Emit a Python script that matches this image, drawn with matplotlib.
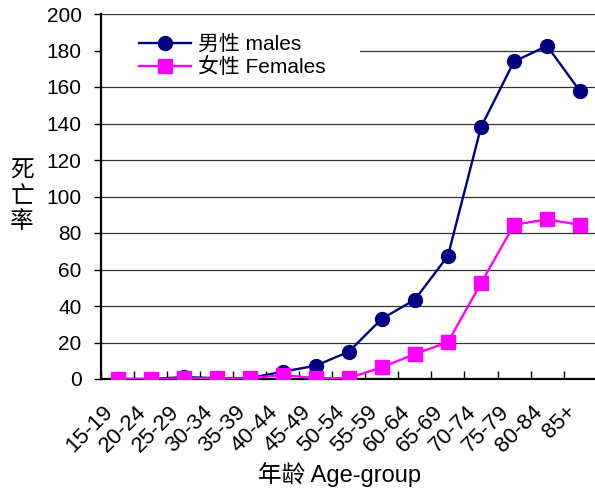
import matplotlib
matplotlib.use("Agg")
import matplotlib.pyplot as plt
import matplotlib.transforms as mtransforms
from matplotlib.patches import Rectangle

plt.rcParams['font.family'] = ['Liberation Sans', 'Noto Sans CJK SC', 'DejaVu Sans']

age_groups = ["15-19", "20-24", "25-29", "30-34", "35-39", "40-44", "45-49",
              "50-54", "55-59", "60-64", "65-69", "70-74", "75-79", "80-84", "85+"]
males = [0, 0, 1, 0.5, 0.5, 4, 7.3, 15, 33, 43.5, 67.5, 138, 174, 182.5, 157.6]
females = [0, 0, 0.3, 0.3, 0.3, 2.2, 0.4, 0.5, 6.4, 13.7, 20.2, 52.5, 84.5, 87.5, 84.4]
y_ticks = list(range(0, 201, 20))

W, H = 595, 495
fig = plt.figure(figsize=(W / 100, H / 100), dpi=100)
L, R, T, B = 101, 595, 14, 379
ax = fig.add_axes([L / W, 1 - B / H, (R - L) / W, (B - T) / H])

x = list(range(len(age_groups)))
ax.set_xlim(-0.485, 14.45)
ax.set_ylim(0, 200)

ax.set_axisbelow(True)
ax.yaxis.grid(True, color='#333333', linewidth=0.9, zorder=0.5)

# white box behind legend hiding part of the grid
ax.add_patch(Rectangle((0, (379 - 80) / 365), (360 - 101) / 494, (80 - 24) / 365,
                       transform=ax.transAxes, facecolor='white', edgecolor='none', zorder=1))

ax.plot(x, males, color='#000080', linewidth=1.7, marker='o', markersize=10,
        label='男性 males', zorder=3)
ax.plot(x, females, color='#FF00FF', linewidth=1.7, marker='s', markersize=10,
        label='女性 Females', zorder=4)

for s in ['top', 'right']:
    ax.spines[s].set_visible(False)
for s in ['left', 'bottom']:
    ax.spines[s].set_linewidth(1.6)
    ax.spines[s].set_color('black')

ax.set_yticks(y_ticks)
ax.tick_params(axis='y', direction='out', length=5, width=1, pad=9, labelsize=15)

ax.set_xticks(x)
ax.set_xticklabels(age_groups, rotation=45, ha='right', va='top', rotation_mode='anchor',
                   fontsize=16)
ax.tick_params(axis='x', length=0, pad=16)
offset = mtransforms.ScaledTranslation(-15 / 100, 0, fig.dpi_scale_trans)
for lab in ax.get_xticklabels():
    lab.set_transform(lab.get_transform() + offset)
ax.set_xticks([i + 0.5 for i in range(-1, 14)], minor=True)
ax.tick_params(axis='x', which='minor', direction='in', length=6, width=1)

leg = ax.legend(loc='upper left', bbox_to_anchor=((140 - 101) / 494 - 0.003, (379 - 35) / 365),
                frameon=False, fontsize=15, handlelength=2.5, handletextpad=0.35,
                labelspacing=0.15, borderpad=0, borderaxespad=0)

fig.text(340 / W, 1 - 475 / H, '年龄 Age-group', ha='center', va='center', fontsize=17)
fig.text(22 / W, 1 - 197 / H, '死\n亡\n率', ha='center', va='center', fontsize=17,
         linespacing=1.2)

fig.savefig('out.png', dpi=100)
